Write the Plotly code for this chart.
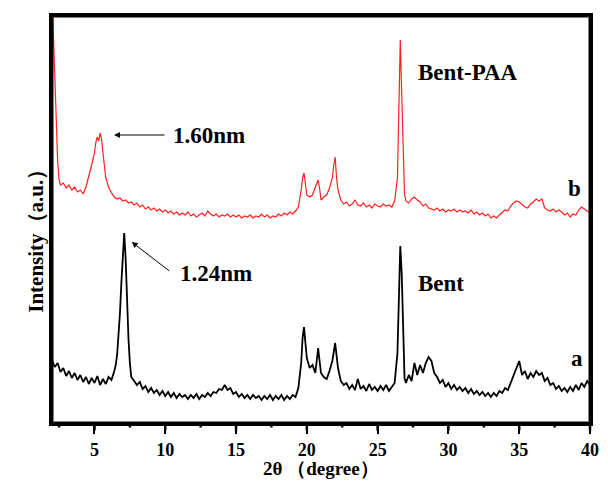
import plotly.graph_objects as go

# ---- data (intensity in arbitrary units) ----
bent_x = [2.0,2.2,2.4,2.6,2.8,3.0,3.2,3.4,3.6,3.8,4.0,4.2,4.4,4.6,4.8,5.0,5.2,5.4,5.6,5.8,6.0,6.2,6.4,6.5,6.6,6.7,6.8,6.9,7.0,7.1,7.2,7.3,7.4,7.5,7.6,7.8,8.0,
          8.2,8.4,8.6,8.8,9.0,9.2,9.4,9.6,9.8,10.0,10.2,10.4,10.6,10.8,11.0,11.2,11.4,11.6,11.8,12.0,12.2,12.4,12.6,12.8,13.0,13.2,13.4,13.6,13.8,14.0,14.2,14.4,14.6,14.8,15.0,
          15.2,15.4,15.6,15.8,16.0,16.2,16.4,16.6,16.8,17.0,17.2,17.4,17.6,17.8,18.0,18.2,18.4,18.6,18.8,19.0,19.2,19.4,19.6,19.7,19.8,19.9,20.0,20.2,20.4,20.6,20.7,20.8,20.9,
          21.0,21.2,21.4,21.6,21.8,22.0,22.1,22.2,22.4,22.6,22.8,23.0,23.2,23.4,23.6,23.8,24.0,24.2,24.4,24.6,24.8,25.0,25.2,25.4,25.6,25.8,26.0,26.2,26.4,26.5,26.6,26.7,26.8,26.9,
          27.0,27.2,27.4,27.6,27.8,28.0,28.2,28.4,28.6,28.8,29.0,29.2,29.4,29.6,29.8,30.0,30.2,30.4,30.6,30.8,31.0,31.2,31.4,31.6,31.8,32.0,32.2,32.4,32.6,32.8,33.0,33.2,33.4,
          33.6,33.8,34.0,34.2,34.4,34.6,34.8,35.0,35.2,35.4,35.6,35.8,36.0,36.2,36.4,36.6,36.8,37.0,37.2,37.4,37.6,37.8,38.0,38.2,38.4,38.6,38.8,39.0,39.2,39.4,39.6,39.8,40.0]
bent_y = [63,56,60,51,55,47,52,45,50,43,48,41,46,39,45,40,47,38,44,39,46,43,52,58,68,85,110,140,172,190,165,120,85,60,46,42,38,
          41,34,37,31,35,30,33,28,32,27,31,26,30,25,29,26,28,24,28,25,29,24,28,26,30,27,31,30,34,33,38,33,35,29,31,
          26,29,25,28,24,28,25,27,23,27,24,28,23,27,24,28,23,27,24,28,26,35,60,85,96,80,65,55,58,50,60,75,62,
          50,46,44,52,62,80,70,55,42,38,40,34,38,33,44,34,37,32,39,33,36,32,37,33,38,32,36,40,70,130,177,150,80,45,
          40,48,42,60,48,58,50,60,66,62,50,46,40,43,36,40,34,38,33,36,32,35,30,34,29,32,28,31,27,30,26,30,27,
          32,30,35,33,40,48,55,62,48,52,44,50,46,52,48,50,42,45,38,40,34,37,32,35,31,36,32,38,33,40,36,42,38]

paa_x = [2.0,2.1,2.2,2.3,2.4,2.5,2.6,2.8,3.0,3.2,3.4,3.6,3.8,4.0,4.2,4.4,4.6,4.8,5.0,5.1,5.2,5.3,5.4,5.5,5.6,5.7,5.8,6.0,6.2,6.4,6.6,6.8,7.0,7.2,7.4,7.6,7.8,8.0,
         8.2,8.4,8.6,8.8,9.0,9.2,9.4,9.6,9.8,10.0,10.2,10.4,10.6,10.8,11.0,11.2,11.4,11.6,11.8,12.0,12.2,12.4,12.6,12.8,13.0,13.2,13.4,13.6,13.8,14.0,14.2,14.4,14.6,14.8,15.0,
         15.2,15.4,15.6,15.8,16.0,16.2,16.4,16.6,16.8,17.0,17.2,17.4,17.6,17.8,18.0,18.2,18.4,18.6,18.8,19.0,19.2,19.4,19.6,19.7,19.8,19.9,20.0,20.2,20.4,20.6,20.7,20.8,20.9,
         21.0,21.2,21.4,21.6,21.8,21.9,22.0,22.1,22.2,22.4,22.6,22.8,23.0,23.2,23.4,23.6,23.8,24.0,24.2,24.4,24.6,24.8,25.0,25.2,25.4,25.6,25.8,26.0,26.2,26.4,26.5,26.6,26.7,26.8,26.9,
         27.0,27.2,27.4,27.6,27.8,28.0,28.2,28.4,28.6,28.8,29.0,29.2,29.4,29.6,29.8,30.0,30.2,30.4,30.6,30.8,31.0,31.2,31.4,31.6,31.8,32.0,32.2,32.4,32.6,32.8,33.0,33.2,33.4,
         33.6,33.8,34.0,34.2,34.4,34.6,34.8,35.0,35.2,35.4,35.6,35.8,36.0,36.2,36.4,36.6,36.8,37.0,37.2,37.4,37.6,37.8,38.0,38.2,38.4,38.6,38.8,39.0,39.2,39.4,39.6,39.8,40.0]
paa_y = [430,385,335,292,262,243,238,240,235,238,233,236,231,233,229,236,246,258,270,281,286,282,290,284,270,256,245,236,230,226,224,225,222,223,220,221,218,220,
         216,218,214,216,213,215,212,214,211,213,210,212,209,211,208,210,208,211,207,209,206,208,210,207,212,209,207,209,206,208,207,209,206,208,206,
         208,205,207,206,208,205,207,206,209,206,208,205,207,206,209,207,210,208,211,209,212,216,233,245,250,240,228,226,228,236,240,243,235,
         223,226,228,235,245,258,266,245,233,223,219,221,217,219,223,218,217,220,216,218,215,219,217,216,219,217,218,216,222,245,320,383,330,273,228,
         222,220,224,226,223,221,217,219,215,214,213,215,212,214,211,213,212,214,211,213,211,212,210,213,209,211,208,210,207,209,205,207,205,
         208,211,213,212,217,220,222,221,218,216,215,219,221,224,222,224,215,213,212,214,211,213,211,208,210,206,209,208,213,216,214,212,210]

major_ticks = [5, 10, 15, 20, 25, 30, 35, 40]
minor_ticks = [2.5, 7.5, 12.5, 17.5, 22.5, 27.5, 32.5, 37.5]
x_range = [2, 40]
y_range = [0, 407]

fig = go.Figure()
fig.add_trace(go.Scatter(x=bent_x, y=bent_y, mode="lines", name="Bent",
                         line=dict(color="black", width=1.8), showlegend=False))
fig.add_trace(go.Scatter(x=paa_x, y=paa_y, mode="lines", name="Bent-PAA",
                         line=dict(color="#ff2020", width=1.2), showlegend=False))

serif = "Liberation Serif"
txt = dict(family=serif, size=23, color="black")

annotations = [
    dict(text="<b>Bent-PAA</b>", x=31.4, y=351, xref="x", yref="y", showarrow=False, font=txt),
    dict(text="<b>Bent</b>", x=29.5, y=140, xref="x", yref="y", showarrow=False, font=txt),
    dict(text="<b>b</b>", x=38.9, y=235, xref="x", yref="y", showarrow=False, font=txt),
    dict(text="<b>a</b>", x=39.05, y=65, xref="x", yref="y", showarrow=False, font=txt),
    dict(text="<b>1.60nm</b>", x=10.4, y=288, xref="x", yref="y", xanchor="left", showarrow=False, font=txt),
    dict(text="<b>1.24nm</b>", x=10.9, y=150, xref="x", yref="y", xanchor="left", showarrow=False, font=txt),
    dict(text="", x=6.38, y=288, xref="x", yref="y", showarrow=True, ax=52, ay=0,
         arrowhead=2, arrowsize=1.2, arrowwidth=1, arrowcolor="black"),
    dict(text="", x=7.63, y=181, xref="x", yref="y", showarrow=True, ax=39, ay=30,
         arrowhead=2, arrowsize=1.2, arrowwidth=1, arrowcolor="black"),
    dict(text="<b>Intensity（a.u.）</b>", x=0, y=0.46, xref="paper", yref="paper", xshift=-30,
         textangle=-90, showarrow=False, font=dict(family=serif, size=21, color="black")),
    dict(text="<b>2θ （degree）</b>", x=0.5, y=-0.112, xref="paper", yref="paper", yanchor="middle",
         showarrow=False, font=dict(family=serif, size=19, color="black")),
]

# frame drawn as arrow-less annotation lines along the axis range
x0, x1 = x_range
y0, y1 = y_range
frame = [((x0, y0), (x1, y0)), ((x1, y0), (x1, y1)), ((x1, y1), (x0, y1)), ((x0, y1), (x0, y0))]
for (ta, tb), (ha, hb) in frame:
    annotations.append(dict(text="", x=ha, y=hb, ax=ta, ay=tb, xref="x", yref="y",
                            axref="x", ayref="y", showarrow=True, arrowhead=0,
                            arrowwidth=3, arrowcolor="black", standoff=0, startstandoff=0))
# tick marks below the bottom axis
for m in major_ticks:
    annotations.append(dict(text="", x=m, y=y0, xref="x", yref="y", ax=0, ay=9,
                            showarrow=True, arrowhead=0, arrowwidth=2.5, arrowcolor="black"))
for m in minor_ticks:
    annotations.append(dict(text="", x=m, y=y0, xref="x", yref="y", ax=0, ay=6,
                            showarrow=True, arrowhead=0, arrowwidth=2.5, arrowcolor="black"))

fig.update_layout(
    width=608, height=481,
    margin=dict(l=52, r=9, t=16, b=58),
    paper_bgcolor="white", plot_bgcolor="white",
    xaxis=dict(range=x_range, tickvals=major_ticks,
               ticktext=["<b>%d</b>" % v for v in major_ticks],
               ticks="outside", ticklen=8, tickwidth=2, tickcolor="black",
               ticklabelstandoff=0,
               showline=True, linewidth=3, linecolor="black", mirror=True,
               showgrid=False, zeroline=False,
               tickfont=dict(family=serif, size=18, color="black")),
    yaxis=dict(range=y_range, showticklabels=False, ticks="",
               showline=True, linewidth=3, linecolor="black", mirror=True,
               showgrid=False, zeroline=False),
    annotations=annotations,
)

fig.write_html(
    "out.html",
    config={"displayModeBar": False},
    post_script=("document.body.style.margin='0';"
                 "document.body.style.overflow='hidden';"
                 "document.documentElement.style.overflow='hidden';"),
)
